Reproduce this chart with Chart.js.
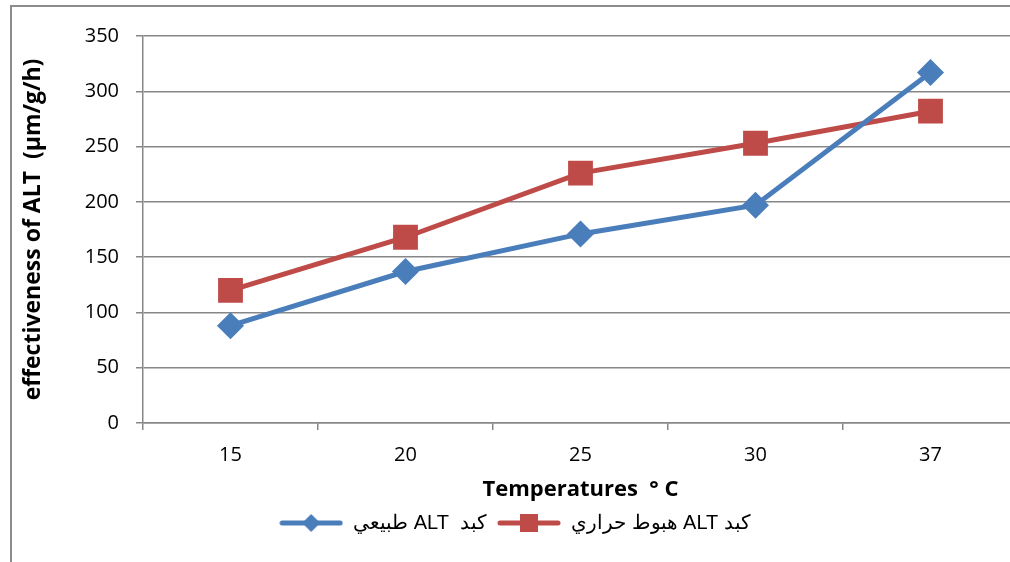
<!DOCTYPE html>
<html>
<head>
<meta charset="utf-8">
<script src="https://cdn.jsdelivr.net/npm/chart.js@4/dist/chart.umd.min.js"></script>
<style>
    html, body { margin: 0; padding: 0; background: #fff; }
    body { width: 1010px; height: 562px; overflow: hidden; position: relative; }
    .marco {
        position: absolute; left: 10px; top: 5px; width: 1100px; height: 700px;
        border: 2px solid #8c8c8c;
    }
    #grafico { position: absolute; left: 12px; top: 7px; }
</style>
</head>
<body>
<div class="marco"></div>
<canvas id="grafico" width="1008" height="555"></canvas>
<script>
// Datos
const temperaturas = ['15', '20', '25', '30', '37'];
const altNormal = [88, 137, 171, 197, 317];
const altHipotermia = [120, 168, 226, 253, 282];
const nombresSeries = ['كبد  ALT طبيعي', 'كبد ALT هبوط حراري'];
const ticksY = [0, 50, 100, 150, 200, 250, 300, 350];

const azul = '#4a7ebb';
const rojo = '#be4b48';
const gris = '#878787';

// icono de leyenda: linea con marcador en el centro
function iconoLeyenda(color, tipo) {
    const c = document.createElement('canvas');
    c.width = 64;
    c.height = 22;
    const ctx = c.getContext('2d');
    ctx.strokeStyle = color;
    ctx.fillStyle = color;
    ctx.lineWidth = 5;
    ctx.lineCap = 'round';
    ctx.beginPath();
    ctx.moveTo(3, 11);
    ctx.lineTo(61, 11);
    ctx.stroke();
    ctx.beginPath();
    if (tipo === 'rombo') {
        ctx.moveTo(32, 2);
        ctx.lineTo(41, 11);
        ctx.lineTo(32, 20);
        ctx.lineTo(23, 11);
        ctx.closePath();
    } else {
        ctx.rect(23, 2, 18, 18);
    }
    ctx.fill();
    return c;
}

const iconos = [iconoLeyenda(azul, 'rombo'), iconoLeyenda(rojo, 'cuadro')];

new Chart(document.getElementById('grafico').getContext('2d'), {
    type: 'line',
    data: {
        labels: temperaturas,
        datasets: [{
            label: nombresSeries[0],
            data: altNormal,
            borderColor: azul,
            backgroundColor: azul,
            borderWidth: 5,
            pointStyle: 'rectRot',
            pointRadius: 10,
            pointHoverRadius: 10,
            tension: 0
        }, {
            label: nombresSeries[1],
            data: altHipotermia,
            borderColor: rojo,
            backgroundColor: rojo,
            borderWidth: 5,
            pointStyle: 'rect',
            pointRadius: 14,
            pointHoverRadius: 14,
            tension: 0
        }]
    },
    options: {
        responsive: false,
        animation: false,
        // sin autoPadding: los marcadores grandes no deben encoger el area
        layout: { autoPadding: false, padding: { top: 27, right: 2, bottom: 19, left: 0 } },
        plugins: {
            tooltip: { enabled: false },
            legend: {
                position: 'bottom',
                textDirection: 'rtl',
                labels: {
                    usePointStyle: true,
                    pointStyleWidth: 64,
                    padding: 10,
                    color: '#000',
                    font: { family: 'Liberation Sans', size: 20 },
                    generateLabels: (chart) => chart.data.datasets.map((ds, i) => ({
                        text: ds.label,
                        pointStyle: iconos[i],
                        datasetIndex: i,
                        fontColor: '#000',
                        lineWidth: 0,
                        strokeStyle: 'transparent',
                        fillStyle: 'transparent'
                    }))
                }
            }
        },
        scales: {
            x: {
                offset: true,
                afterFit: (scale) => { scale.height = 80; },
                grid: { offset: true, drawOnChartArea: false, drawTicks: true, tickLength: 7, color: gris, lineWidth: 1.5 },
                border: { color: gris, width: 1.5 },
                ticks: { color: '#000', padding: 13, font: { family: 'Open Sans', size: 20 } },
                title: {
                    display: true,
                    text: 'Temperatures  ° C',
                    color: '#000',
                    padding: { top: 0, bottom: 0 },
                    font: { family: 'Open Sans', size: 22, weight: 'bold' }
                }
            },
            y: {
                min: 0,
                max: 350,
                afterFit: (scale) => { scale.width = 131; },
                afterBuildTicks: (scale) => { scale.ticks = ticksY.map(v => ({ value: v })); },
                grid: { color: gris, lineWidth: 1.5, drawTicks: true, tickLength: 7 },
                border: { color: gris, width: 1.5 },
                ticks: { color: '#000', padding: 17, font: { family: 'Open Sans', size: 20 } },
                title: {
                    display: true,
                    text: 'effectiveness of ALT  (µm/g/h)',
                    color: '#000',
                    padding: { top: 8, bottom: 0 },
                    font: { family: 'Open Sans', size: 23, weight: 'bold' }
                }
            }
        }
    }
});
</script>
</body>
</html>
